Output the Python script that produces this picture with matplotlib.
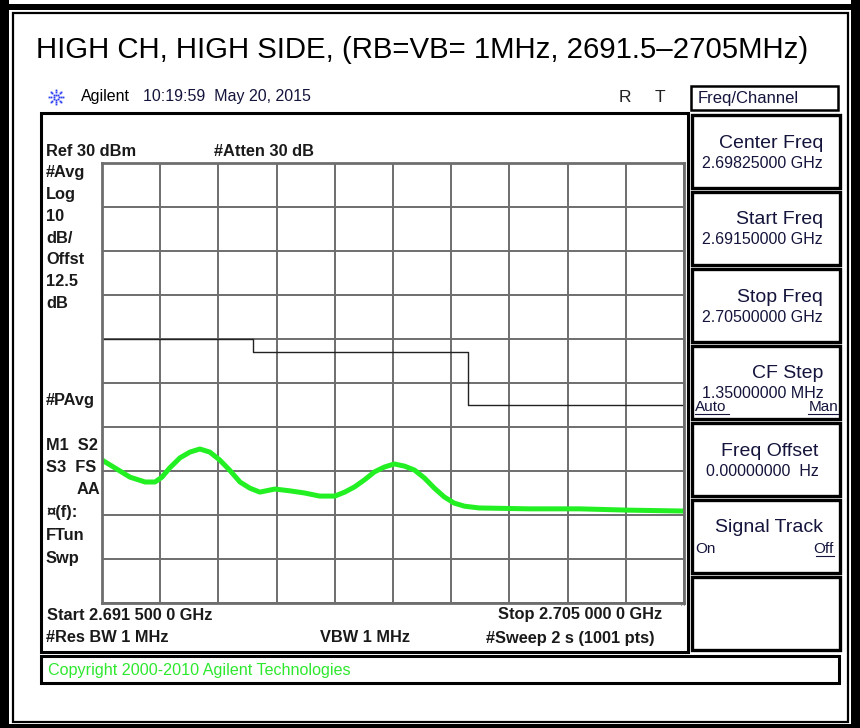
import matplotlib
matplotlib.use('Agg')
import matplotlib.pyplot as plt
from matplotlib.patches import Rectangle
import numpy as np

plt.rcParams['font.family'] = ['Liberation Sans', 'DejaVu Sans']

# Sweep settings
start_mhz = 2691.5
stop_mhz = 2705.0
ref_level = 30
db_per_div = 10

# Averaged trace (MHz, dBm)
trace_freq = [2691.50, 2691.80, 2692.15, 2692.50, 2692.73, 2692.89, 2693.07, 2693.31,
              2693.54, 2693.77, 2694.00, 2694.23, 2694.46, 2694.70, 2694.93, 2695.16,
              2695.51, 2695.85, 2696.20, 2696.55, 2696.90, 2697.13, 2697.36, 2697.59,
              2697.82, 2698.05, 2698.28, 2698.52, 2698.75, 2698.98, 2699.21, 2699.44,
              2699.67, 2699.91, 2700.25, 2701.41, 2702.57, 2703.73, 2705.00]
trace_dbm = [-37.5, -39.3, -41.4, -42.5, -42.5, -41.4, -39.3, -37.0,
             -35.7, -35.0, -35.7, -37.5, -39.8, -42.5, -43.9, -44.8,
             -44.1, -44.5, -45.0, -45.7, -45.7, -44.8, -43.6, -42.0,
             -40.2, -39.1, -38.4, -38.9, -39.8, -41.6, -43.9, -45.9,
             -47.3, -48.0, -48.4, -48.6, -48.6, -48.9, -49.1]

# Limit line (step)
limit_freq = [2691.5, 2695.0, 2695.0, 2700.0, 2700.0, 2705.0]
limit_dbm = [-10, -10, -13, -13, -25, -25]

# Softkey menu
softkey_labels = ['Center Freq', 'Start Freq', 'Stop Freq', 'CF Step',
                  'Freq Offset', 'Signal Track', '']
softkey_values = ['2.69825000 GHz', '2.69150000 GHz', '2.70500000 GHz',
                  '1.35000000 MHz', '0.00000000  Hz', '', '']

# Left annotation column
left_labels = ['#Avg', 'Log', '10', 'dB/', 'Offst', '12.5', 'dB']

W, H = 860, 728
fig = plt.figure(figsize=(W / 100, H / 100), dpi=100)
bg = fig.add_axes([0, 0, 1, 1])
bg.set_xlim(0, W)
bg.set_ylim(H, 0)
bg.axis('off')


def box(x0, y0, x1, y1, lw=1.5, color='black'):
    bg.add_patch(Rectangle((x0, y0), x1 - x0, y1 - y0, fill=False,
                           lw=lw, edgecolor=color))


# outer frame
bg.add_patch(Rectangle((0, 4), W, 6, color='black', lw=0))
bg.add_patch(Rectangle((0, 0), 9, H, color='black', lw=0))
bg.add_patch(Rectangle((851, 0), 9, H, color='black', lw=0))
bg.add_patch(Rectangle((0, 724), W, 4, color='black', lw=0))
box(12.5, 12.5, 847.5, 721.5, lw=1.6)

# title
bg.text(36, 50, 'HIGH CH, HIGH SIDE, (RB=VB= 1MHz, 2691.5\u20132705MHz)',
        fontsize=21.2, va='center', ha='left', color='black')

# header line
for ang in np.arange(0, 360, 45):
    a = np.radians(ang)
    r = np.array([2.5, 5.0, 7.0])
    bg.plot(56 + r * np.cos(a), 97 + r * np.sin(a), 's', ms=1.3,
            color='#2a3cf0', mew=0)
bg.text(81, 97, 'Agilent', fontsize=11.5, va='center', color='black')
bg.text(143, 97, '10:19:59  May 20, 2015', fontsize=11.5, va='center', color='#14143c')
bg.text(625, 97, 'R', fontsize=12.5, va='center', ha='center', color='#222222')
bg.text(660, 97, 'T', fontsize=12.5, va='center', ha='center', color='#222222')
box(691, 86, 838, 110, lw=1.8)
bg.text(698, 98, 'Freq/Channel', fontsize=12, va='center', color='#14143c')

# main screen box and copyright bar
box(41, 113, 688, 652, lw=2.2)
box(41, 656, 839, 683, lw=2.2)
bg.text(48, 670, 'Copyright 2000-2010 Agilent Technologies', fontsize=11.6,
        va='center', color='#2ee82e')

# softkeys
for i, (lab, val) in enumerate(zip(softkey_labels, softkey_values)):
    top = 115 + i * 77
    box(692, top, 840, top + 73, lw=2.4)
    if lab:
        bg.text(823 if i != 4 else 818, top + 28, lab, fontsize=14,
                ha='right', va='center', color='#14143c')
    if val:
        bg.text(702 if i != 4 else 706, top + 48, val, fontsize=11.5,
                ha='left', va='center', color='#14143c')
bg.text(695, 407, 'Auto', fontsize=11, va='center', color='#14143c')
bg.text(838, 407, 'Man', fontsize=11, va='center', ha='right', color='#14143c')
bg.plot([695, 729], [414, 414], color='#14143c', lw=0.8)
bg.plot([808, 838], [414, 414], color='#14143c', lw=0.8)
bg.text(695, 549, 'On', fontsize=11, va='center', color='#14143c')
bg.text(834, 549, 'Off', fontsize=11, va='center', ha='right', color='#14143c')
bg.plot([816, 834], [556, 556], color='#14143c', lw=0.8)

# screen annotations
bold = dict(fontsize=11.8, fontweight='bold', va='center', color='#1a1a1a')
bg.text(46, 152, 'Ref 30 dBm', **bold)
bg.text(214, 152, '#Atten 30 dB', **bold)
for j, lab in enumerate(left_labels):
    bg.text(46, 173 + j * 21.7, lab, **bold)
bg.text(46, 400, '#PAvg', **bold)
bg.text(46, 445, 'M1  S2', **bold)
bg.text(46, 468, 'S3  FS', **bold)
bg.text(77, 490, 'AA', **bold)
bg.text(46, 513, '\u00a4(f):', **bold)
bg.text(46, 536, 'FTun', **bold)
bg.text(46, 558, 'Swp', **bold)
bg.text(47, 615, 'Start 2.691 500 0 GHz', **bold)
bg.text(662, 615, 'Stop 2.705 000 0 GHz', ha='right', **bold)
bg.text(46, 638, '#Res BW 1 MHz', **bold)
bg.text(320, 638, 'VBW 1 MHz', **bold)
bg.text(655, 638, '#Sweep 2 s (1001 pts)', ha='right', **bold)
bg.text(683, 606, '^', fontsize=6, ha='center', va='center', color='#555555')

# graticule + traces
ax = fig.add_axes([102 / W, 1 - 603 / H, (684 - 102) / W, (603 - 163) / H])
ax.set_xlim(start_mhz, stop_mhz)
ax.set_ylim(ref_level - 10 * db_per_div, ref_level)
ax.set_xticks(np.linspace(start_mhz, stop_mhz, 11))
ax.set_yticks(np.arange(ref_level - 10 * db_per_div, ref_level + 1, db_per_div))
ax.grid(True, color='#6e6e6e', lw=1.4)
ax.tick_params(length=0, labelbottom=False, labelleft=False)
for s in ax.spines.values():
    s.set_color('#6e6e6e')
    s.set_linewidth(2)
ax.set_facecolor('white')

ax.plot(limit_freq, limit_dbm, color='#222222', lw=1.0)
ax.plot(trace_freq, trace_dbm, color='#22f022', lw=3.6, solid_joinstyle='round')

fig.savefig('out.png', dpi=100)
